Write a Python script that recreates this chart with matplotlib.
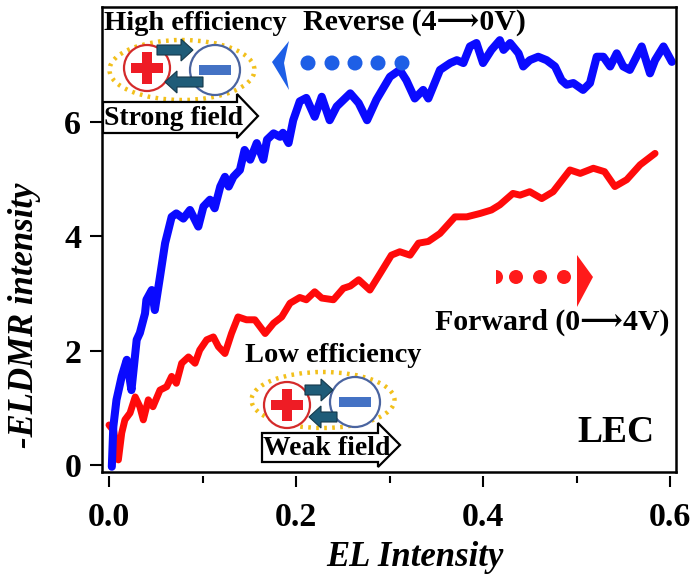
import matplotlib
matplotlib.use('Agg')
import matplotlib.pyplot as plt
from matplotlib.patches import Circle, Ellipse, Rectangle, Polygon, FancyArrow, Wedge

# reverse sweep (4 -> 0 V), blue
rev_x = [0.003, 0.0046, 0.008, 0.0136, 0.019, 0.024, 0.0296, 0.033, 0.0385, 0.040,
         0.0457, 0.049, 0.0545, 0.060, 0.067, 0.072, 0.0795, 0.0866, 0.0955, 0.101,
         0.108, 0.113, 0.119, 0.124, 0.128, 0.133, 0.140, 0.145, 0.151, 0.158,
         0.165, 0.169, 0.176, 0.183, 0.186, 0.192, 0.197, 0.204, 0.211, 0.220,
         0.2275, 0.236, 0.2435, 0.258, 0.267, 0.276, 0.286, 0.3005, 0.311, 0.318,
         0.327, 0.336, 0.3415, 0.354, 0.365, 0.372, 0.379, 0.386, 0.393, 0.400,
         0.409, 0.418, 0.422, 0.429, 0.438, 0.443, 0.450, 0.459, 0.468, 0.477,
         0.484, 0.4895, 0.4966, 0.507, 0.5144, 0.5216, 0.5287, 0.536, 0.543, 0.550,
         0.557, 0.5697, 0.5786, 0.584, 0.593, 0.602]
rev_y = [-0.03, 0.67, 1.14, 1.55, 1.84, 1.31, 2.19, 2.31, 2.65, 2.89,
         3.06, 2.71, 3.29, 3.88, 4.34, 4.40, 4.31, 4.46, 4.17, 4.52,
         4.64, 4.49, 4.87, 5.04, 4.87, 5.04, 5.16, 5.51, 5.34, 5.63,
         5.34, 5.69, 5.80, 5.74, 5.81, 5.63, 6.03, 6.36, 6.42, 6.09,
         6.44, 6.03, 6.27, 6.50, 6.33, 6.03, 6.39, 6.79, 6.91, 6.73,
         6.41, 6.56, 6.41, 6.91, 7.03, 7.08, 7.03, 7.32, 7.38, 7.03,
         7.26, 7.43, 7.26, 7.38, 7.20, 6.97, 7.08, 7.14, 7.08, 6.97,
         6.73, 6.65, 6.68, 6.56, 6.68, 7.14, 7.14, 6.97, 7.20, 6.97,
         6.91, 7.32, 6.85, 7.08, 7.32, 7.05]

# forward sweep (0 -> 4 V), red
fwd_x = [0.000, 0.005, 0.010, 0.0136, 0.017, 0.0225, 0.028, 0.033, 0.0367, 0.042,
         0.047, 0.0545, 0.0617, 0.067, 0.072, 0.0777, 0.085, 0.092, 0.097, 0.1045,
         0.1116, 0.117, 0.124, 0.131, 0.138, 0.147, 0.156, 0.167, 0.176, 0.1847,
         0.1936, 0.204, 0.211, 0.220, 0.2275, 0.240, 0.2506, 0.258, 0.267, 0.279,
         0.290, 0.302, 0.311, 0.322, 0.331, 0.3415, 0.354, 0.370, 0.3826, 0.397,
         0.409, 0.418, 0.432, 0.4396, 0.450, 0.4628, 0.475, 0.493, 0.504, 0.518,
         0.530, 0.541, 0.5537, 0.568, 0.584]
fwd_y = [0.70, 0.60, 0.09, 0.56, 0.79, 0.91, 1.19, 1.02, 0.79, 1.14,
         1.02, 1.31, 1.37, 1.55, 1.43, 1.78, 1.89, 1.78, 2.01, 2.19,
         2.24, 2.07, 1.95, 2.30, 2.59, 2.54, 2.54, 2.30, 2.48, 2.59,
         2.83, 2.93, 2.89, 3.03, 2.92, 2.89, 3.09, 3.13, 3.24, 3.06,
         3.35, 3.67, 3.73, 3.67, 3.88, 3.91, 4.05, 4.34, 4.34, 4.40,
         4.46, 4.55, 4.75, 4.72, 4.78, 4.66, 4.78, 5.16, 5.10, 5.19,
         5.13, 4.87, 4.99, 5.25, 5.45]

xticks = [0.0, 0.2, 0.4, 0.6]
xtick_labels = ['0.0', '0.2', '0.4', '0.6']
yticks = [0, 2, 4, 6]
ytick_labels = ['0', '2', '4', '6']

serif = ['Liberation Serif', 'DejaVu Serif', 'DejaVu Sans']
plt.rcParams['font.family'] = serif
plt.rcParams['font.weight'] = 'bold'

fig = plt.figure(figsize=(7, 5.77), dpi=100)
ax = fig.add_axes([102 / 700, 1 - 472 / 577, 574 / 700, 465 / 577])

ax.plot(fwd_x, fwd_y, color='#ff0a0a', lw=5, solid_joinstyle='round', solid_capstyle='round')
ax.plot(rev_x, rev_y, color='#0a0aff', lw=5.8, solid_joinstyle='round', solid_capstyle='round')

ax.set_xlim(-0.0075, 0.6064)
ax.set_ylim(-0.122, 8.01)
for s in ax.spines.values():
    s.set_linewidth(1.8)

ax.set_yticks(yticks)
ax.set_yticklabels(ytick_labels, fontsize=24.5, fontweight='bold')
ax.tick_params(axis='y', direction='out', length=9, width=1.5, pad=6)
ax.tick_params(axis='x', bottom=False, labelbottom=False)

# x ticks sit a little below the frame, detached
sec = ax.secondary_xaxis(-4 / 465)
sec.spines['bottom'].set_visible(False)
sec.set_xticks(xticks)
sec.set_xticklabels(xtick_labels, fontsize=24.5, fontweight='bold')
sec.set_xticks([0.1, 0.3, 0.5], minor=True)
sec.tick_params(axis='x', which='major', direction='out', length=8, width=1.5, pad=11)
sec.tick_params(axis='x', which='minor', direction='out', length=5, width=1.5)

ax.set_ylabel('-ELDMR intensity', fontsize=25, fontweight='bold', fontstyle='italic')
ax.yaxis.set_label_coords(-0.106, 0.337)
ax.set_xlabel('EL Intensity', fontsize=25, fontweight='bold', fontstyle='italic')
ax.xaxis.set_label_coords(0.545, -0.148)

# overlay in pixel coordinates for the cartoons and labels
ov = fig.add_axes([0, 0, 1, 1], zorder=5)
ov.set_xlim(0, 700)
ov.set_ylim(577, 0)
ov.axis('off')
ov.patch.set_alpha(0)


def charge_pair(ex, ey, ew, eh, rc, bc, a_top, a_bot):
    ov.add_patch(Ellipse((ex, ey), ew, eh, fill=False, ec='#f2c01c', lw=3.2,
                         ls=(0, (0.6, 1.2))))
    ov.add_patch(Circle(rc, 23, fc='white', ec='#d42a2a', lw=1.6))
    ov.add_patch(Rectangle((rc[0] - 16, rc[1] - 5), 32, 10, color='#ee1c25', lw=0))
    ov.add_patch(Rectangle((rc[0] - 5, rc[1] - 16), 10, 32, color='#ee1c25', lw=0))
    ov.add_patch(Circle(bc, 25, fc='white', ec='#4a64a0', lw=1.6))
    ov.add_patch(Rectangle((bc[0] - 16, bc[1] - 5), 32, 10, color='#4472c4', lw=0))
    for x0, x1, y in (a_top, a_bot):
        ov.add_patch(FancyArrow(x0, y, x1 - x0, 0, width=10, head_width=22, head_length=12,
                                length_includes_head=True, fc='#1f5c78', ec='#15384a', lw=0.8))


def field_arrow(x0, y0, x1, y1, tip, hy0, hy1, label, fs):
    yc = (hy0 + hy1) / 2
    pts = [(x0, y0), (x1, y0), (x1, hy0), (tip, yc), (x1, hy1), (x1, y1), (x0, y1)]
    ov.add_patch(Polygon(pts, closed=True, fc='white', ec='black', lw=1.6))
    ov.text(x0 + 1, (y0 + y1) / 2 + 1, label, fontsize=fs, fontweight='bold',
            ha='left', va='center', family=serif)


charge_pair(182, 70, 145, 60, (147, 68), (215, 70), (157, 193, 50), (203, 165, 82))
field_arrow(103, 102, 237, 133, 258, 94, 138, 'Strong field', 20)

charge_pair(323, 400, 143, 56, (287, 405), (355, 402), (305, 333, 390), (337, 309, 417))
field_arrow(262, 433, 378, 462, 400, 423, 467, 'Weak field', 20)

ov.text(104, 23, 'High efficiency', fontsize=20.5, fontweight='bold', ha='left', va='center', family=serif)
ov.text(303, 22, 'Reverse (4\u27f60V)', fontsize=21.5, fontweight='bold', ha='left', va='center', family=serif)
ov.text(245, 355, 'Low efficiency', fontsize=20.5, fontweight='bold', ha='left', va='center', family=serif)
ov.text(435, 322, 'Forward (0\u27f64V)', fontsize=21.5, fontweight='bold', ha='left', va='center', family=serif)
ov.text(577, 433, 'LEC', fontsize=27, fontweight='bold', ha='left', va='center', family=serif)

# dotted direction arrows
for cx in [308, 332, 355, 378, 402]:
    ov.add_patch(Circle((cx, 63), 7.5, color='#1e5fe6', lw=0))
ov.add_patch(Polygon([(272, 62), (289, 41), (284, 63), (289, 90)], closed=True, color='#1e5fe6', lw=0))

ov.add_patch(Wedge((496, 277), 7, -90, 90, color='#ff1a1a', lw=0))
for cx in [516, 540, 564]:
    ov.add_patch(Circle((cx, 277), 7, color='#ff1a1a', lw=0))
ov.add_patch(Polygon([(577, 255), (593, 277), (577, 307)], closed=True, color='#ff1a1a', lw=0))

fig.savefig('out.png', dpi=100)
